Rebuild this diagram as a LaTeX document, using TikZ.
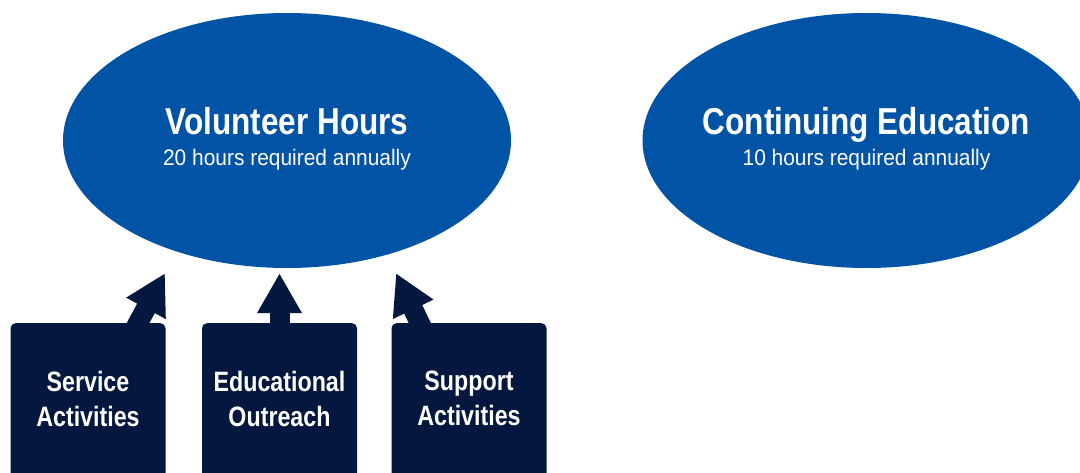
\documentclass[tikz,border=0pt]{standalone}
\usepackage{fontspec}
\setmainfont{Liberation Sans}
\newfontfamily\titlefont[FakeStretch=0.84]{Liberation Sans}
\newfontfamily\subfont[FakeStretch=0.93]{Liberation Sans}
\newfontfamily\boxfont[FakeStretch=0.83]{Liberation Sans}
\usetikzlibrary{arrows.meta,shapes.geometric,calc}
\definecolor{ellblue}{RGB}{0,83,165}
\definecolor{navy}{RGB}{3,23,63}
\pgfdeclarelayer{arrowlayer}
\pgfsetlayers{arrowlayer,main}
\begin{document}
\begin{tikzpicture}[x=1pt,y=-1pt,
  ell/.style={ellipse, fill=ellblue, minimum width=448, minimum height=255, inner sep=0},
  ttl/.style={text=white, inner sep=0, anchor=base, font=\titlefont\bfseries\fontsize{37.5}{40}\selectfont},
  sub/.style={text=white, inner sep=0, anchor=base, font=\subfont\fontsize{22.5}{25}\selectfont},
  boxn/.style={rectangle, rounded corners=5, fill=navy, minimum width=155, minimum height=170, anchor=north, inner sep=0},
  boxt/.style={text=white, align=center, inner sep=0, font=\boxfont\bfseries\fontsize{28}{35}\selectfont},
  arr/.style={draw=navy, line width=20, -{Triangle[length=40pt,width=42pt]}}
]
\useasboundingbox (0,0) rectangle (1080,472);
\clip (0,0) rectangle (1080,472);
\node[ell] (e1) at (287,140.5) {};
\node[ell] (e2) at (866.5,140.5) {};
\node[ttl] (t1) at ($(e1.center)+(0,-6)$) {Volunteer Hours};
\node[sub] (s1) at ($(e1.center)+(0,25)$) {20 hours required annually};
\node[ttl] (t2) at ($(e2.center)+(0,-6)$) {Continuing Education};
\node[sub] (s2) at ($(e2.center)+(0,25)$) {10 hours required annually};
\node[boxn] (b1) at (88,323) {};
\node[boxn] (b2) at (279.5,323) {};
\node[boxn] (b3) at (469,323) {};
\begin{pgfonlayer}{arrowlayer}
\draw[arr] ($(b1.north)+(47.2,5.3)$) -- ($(e1.south)+(-122,5)$);
\draw[arr] ($(b2.north)+(0,6)$) -- ($(e1.south)+(-7.5,5)$);
\draw[arr] ($(b3.north)+(-46.7,5.3)$) -- ($(e1.south)+(109,5)$);
\end{pgfonlayer}
\node[boxt] (l1) at ($(b1.north)+(0,75.7)$) {Service\\Activities};
\node[boxt] (l2) at ($(b2.north)+(0,75.7)$) {Educational\\Outreach};
\node[boxt] (l3) at ($(b3.north)+(0,75.7)$) {Support\\Activities};
\end{tikzpicture}
\end{document}
